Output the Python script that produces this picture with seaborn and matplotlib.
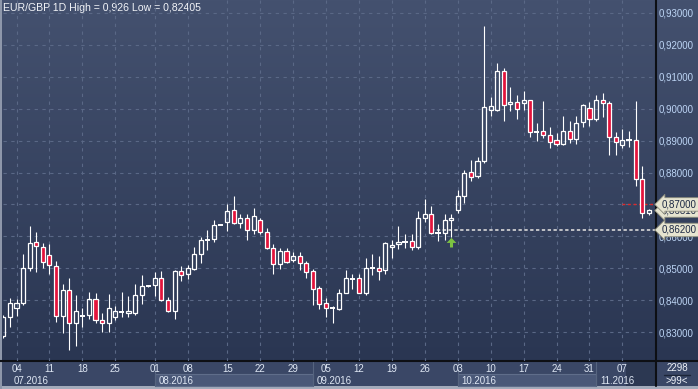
import numpy as np
import pandas as pd
import matplotlib
matplotlib.use("Agg")
import matplotlib.pyplot as plt
import seaborn as sns
from matplotlib import transforms
from matplotlib.patches import Rectangle
from matplotlib.colors import LinearSegmentedColormap

# ---------------- data ----------------
opens = [0.8288, 0.8346, 0.8377, 0.8390, 0.8502, 0.8583, 0.8568, 0.8540, 0.8508, 0.8349,
         0.8433, 0.8330, 0.8351, 0.8352, 0.8404, 0.8337, 0.8330, 0.8346, 0.8364, 0.8361,
         0.8360, 0.8415, 0.8443, 0.8449, 0.8468, 0.8402, 0.8365, 0.8491, 0.8481, 0.8499,
         0.8546, 0.8590, 0.8593, 0.8636, 0.8645, 0.8683, 0.8642, 0.8658, 0.8621, 0.8652,
         0.8615, 0.8563, 0.8512, 0.8553, 0.8527, 0.8537, 0.8517, 0.8491, 0.8437, 0.8390,
         0.8376, 0.8373, 0.8424, 0.8467, 0.8471, 0.8424, 0.8500, 0.8500, 0.8493, 0.8567,
         0.8577, 0.8582, 0.8584, 0.8567, 0.8658, 0.8671, 0.8610, 0.8612, 0.8652, 0.8683,
         0.8727, 0.8803, 0.8788, 0.8837, 0.8996, 0.8996, 0.9118, 0.9016, 0.9022, 0.9018,
         0.9028, 0.8927, 0.8931, 0.8918, 0.8902, 0.8888, 0.8930, 0.8904, 0.8957, 0.9002,
         0.8967, 0.9027, 0.9019, 0.8910, 0.8887, 0.8902, 0.8903, 0.8780, 0.8673]
highs = [0.8352, 0.8408, 0.8404, 0.8546, 0.8631, 0.8613, 0.8578, 0.8577, 0.8522, 0.8450,
         0.8468, 0.8416, 0.8377, 0.8425, 0.8421, 0.8360, 0.8419, 0.8381, 0.8425, 0.8413,
         0.8450, 0.8478, 0.8447, 0.8488, 0.8492, 0.8410, 0.8494, 0.8506, 0.8509, 0.8567,
         0.8598, 0.8621, 0.8652, 0.8640, 0.8702, 0.8725, 0.8671, 0.8671, 0.8690, 0.8659,
         0.8626, 0.8577, 0.8563, 0.8563, 0.8551, 0.8550, 0.8523, 0.8497, 0.8444, 0.8406,
         0.8381, 0.8435, 0.8494, 0.8483, 0.8481, 0.8533, 0.8544, 0.8538, 0.8581, 0.8588,
         0.8631, 0.8606, 0.8608, 0.8679, 0.8716, 0.8694, 0.8638, 0.8671, 0.8671, 0.8744,
         0.8809, 0.8840, 0.8850, 0.9259, 0.9038, 0.9142, 0.9129, 0.9067, 0.9044, 0.9056,
         0.9028, 0.8956, 0.9025, 0.8942, 0.8925, 0.8978, 0.8963, 0.8978, 0.9015, 0.9020,
         0.9044, 0.9048, 0.9025, 0.8926, 0.8937, 0.8931, 0.9025, 0.8821, 0.8685]
lows = [0.8280, 0.8317, 0.8350, 0.8385, 0.8492, 0.8488, 0.8501, 0.8481, 0.8333, 0.8296,
        0.8245, 0.8257, 0.8317, 0.8341, 0.8327, 0.8299, 0.8299, 0.8337, 0.8348, 0.8348,
        0.8355, 0.8387, 0.8441, 0.8413, 0.8398, 0.8363, 0.8341, 0.8460, 0.8467, 0.8496,
        0.8515, 0.8556, 0.8582, 0.8634, 0.8617, 0.8638, 0.8627, 0.8590, 0.8608, 0.8608,
        0.8559, 0.8483, 0.8499, 0.8517, 0.8519, 0.8496, 0.8471, 0.8384, 0.8373, 0.8348,
        0.8329, 0.8369, 0.8421, 0.8435, 0.8421, 0.8417, 0.8478, 0.8463, 0.8481, 0.8532,
        0.8560, 0.8562, 0.8558, 0.8560, 0.8644, 0.8606, 0.8585, 0.8588, 0.8597, 0.8673,
        0.8704, 0.8773, 0.8783, 0.8829, 0.8976, 0.8992, 0.8963, 0.8994, 0.8969, 0.8996,
        0.8910, 0.8898, 0.8908, 0.8876, 0.8884, 0.8885, 0.8891, 0.8890, 0.8942, 0.8947,
        0.8963, 0.8975, 0.8856, 0.8855, 0.8876, 0.8879, 0.8759, 0.8658, 0.8666]
closes = [0.8346, 0.8390, 0.8390, 0.8502, 0.8580, 0.8569, 0.8521, 0.8509, 0.8349, 0.8433,
          0.8330, 0.8365, 0.8353, 0.8405, 0.8338, 0.8330, 0.8374, 0.8365, 0.8366, 0.8365,
          0.8415, 0.8443, 0.8445, 0.8468, 0.8402, 0.8365, 0.8490, 0.8480, 0.8501, 0.8546,
          0.8590, 0.8592, 0.8637, 0.8638, 0.8679, 0.8642, 0.8658, 0.8621, 0.8663, 0.8613,
          0.8563, 0.8512, 0.8553, 0.8520, 0.8537, 0.8515, 0.8488, 0.8435, 0.8388, 0.8377,
          0.8378, 0.8424, 0.8468, 0.8469, 0.8421, 0.8502, 0.8502, 0.8492, 0.8578, 0.8574,
          0.8583, 0.8584, 0.8567, 0.8658, 0.8671, 0.8610, 0.8612, 0.8652, 0.8658, 0.8727,
          0.8799, 0.8785, 0.8837, 0.9004, 0.9008, 0.9119, 0.9012, 0.9022, 0.8998, 0.9028,
          0.8926, 0.8929, 0.8918, 0.8896, 0.8890, 0.8931, 0.8904, 0.8955, 0.9012, 0.8967,
          0.9027, 0.9017, 0.8910, 0.8896, 0.8902, 0.8904, 0.8780, 0.8673, 0.8681]

week_starts = [2, 7, 12, 17, 23, 28, 34, 39, 44, 49, 54, 59, 64, 69, 74, 79, 84, 89, 94]
day_labels = ['04', '11', '18', '25', '01', '08', '15', '22', '29', '05',
              '12', '19', '26', '03', '10', '17', '24', '31', '07']
month_starts = [1, 23, 47, 69, 90]
month_labels = ['07.2016', '08.2016', '09.2016', '10.2016', '11.2016']
price_ticks = [0.83, 0.84, 0.85, 0.86, 0.87, 0.88, 0.89, 0.90, 0.91, 0.92, 0.93]
title_text = 'EUR/GBP 1D High = 0,926 Low = 0,82405'
last_close = 0.8681
alert_level = 0.8700
alert_start = 94
signal_level = 0.8620
signal_start = 65
signal_idx = 68
bar_count = '2298'
zoom_text = '>99<'

# ---------------- style ----------------
sns.set_theme(style="dark")
plt.rcParams['font.family'] = ['Liberation Sans', 'DejaVu Sans']

W, H = 698, 389
PLOT_B = 361
fig = plt.figure(figsize=(W / 100, H / 100), dpi=100)

# background layer in pixel coordinates
bg = fig.add_axes([0, 0, 1, 1])
bg.set_xlim(0, W)
bg.set_ylim(H, 0)
bg.axis('off')
bg.set_zorder(-10)
cmap = LinearSegmentedColormap.from_list('g', ['#44516f', '#2a3652'])
bg.imshow(np.linspace(0, 1, 256).reshape(-1, 1), extent=[0, W, PLOT_B, 0],
          cmap=cmap, aspect='auto', origin='upper')
# time axis panel
bg.add_patch(Rectangle((0, PLOT_B), W, 25, color='#3a4766', lw=0))
bg.add_patch(Rectangle((626, PLOT_B), 29, 25, color='#2c3852', lw=0))
bg.add_patch(Rectangle((0, 386), W, 3, color='#a3abbb', lw=0))
bg.add_patch(Rectangle((0, 0), 2, H, color='#8e97aa', lw=0))

# main axes
ax = fig.add_axes([3 / W, (H - PLOT_B) / H, 652 / W, PLOT_B / H])
ax.set_facecolor('none')
ax.set_xlim(-0.05, 98.95)
ax.set_ylim(0.820938, 0.934063)
for s in ax.spines.values():
    s.set_visible(False)

ax.set_xticks(week_starts)
ax.set_xticklabels(day_labels)
ax.set_yticks(price_ticks)
ax.set_yticklabels([f'{v:.5f}'.replace('.', ',') for v in price_ticks])
ax.yaxis.tick_right()
ax.grid(True, color='#5a6886', linestyle=(0, (3, 4)), linewidth=0.8)
ax.set_axisbelow(True)
ax.tick_params(axis='y', length=0, pad=2.5, labelcolor='#bcd4f4', labelsize=7)
ax.tick_params(axis='x', length=0, pad=2.5, labelcolor='#dfe7f4', labelsize=7)

# candles
df = pd.DataFrame({'o': opens, 'h': highs, 'l': lows, 'c': closes})
df['i'] = np.arange(len(df))
df['top'] = df[['o', 'c']].max(axis=1)
df['bot'] = df[['o', 'c']].min(axis=1)
df['up'] = df['c'] >= df['o']
df['doji'] = (df['c'] - df['o']).abs() < 0.0003
BW = 0.62
RED = '#e3143c'

ax.vlines(df['i'], df['top'], df['h'], colors='white', lw=0.8, zorder=3)
ax.vlines(df['i'], df['l'], df['bot'], colors='white', lw=0.8, zorder=3)
d = df[df['doji']]
ax.hlines(d['o'], d['i'] - BW / 2 - 0.08, d['i'] + BW / 2 + 0.08, colors='white', lw=1.4, zorder=4)
b = df[~df['doji']]
ax.bar(b['i'], b['top'] - b['bot'], bottom=b['bot'], width=BW,
       color=[('none' if u else RED) for u in b['up']],
       edgecolor='white', linewidth=0.9, zorder=4)

# level lines
ax.hlines(signal_level, signal_start, 98.95, colors='#d8d8d8', linestyles=(0, (2, 1.5)), lw=1.2, zorder=2)
ax.hlines(alert_level, alert_start, 98.95, colors='#e02828', linestyles=(0, (2, 2)), lw=1.0, zorder=2)

# signal arrow (up arrow with stem), placed just below the signal candle's low
GREEN = '#7dc242'
sig_low = lows[signal_idx]
ax.vlines(signal_idx, sig_low - 0.0030, sig_low - 0.0010, colors=GREEN, lw=2.2, zorder=5)
head = [(-1, -0.5), (1, -0.5), (0, 0.55), (-1, -0.5)]
ax.plot([signal_idx], [sig_low - 0.0008], marker=head, markersize=7, color=GREEN,
        markeredgewidth=0, linestyle='none', zorder=6)

# price tags on right axis
tag_tr = transforms.offset_copy(transforms.blended_transform_factory(ax.transAxes, ax.transData),
                                fig=fig, x=7, y=0, units='dots')
for lvl in [last_close, alert_level, signal_level]:
    ax.text(1.0, lvl, f'{lvl:.5f}'.replace('.', ','), transform=tag_tr, ha='left', va='center',
            fontsize=7, color='#1c2844', clip_on=False, zorder=10,
            bbox=dict(boxstyle='larrow,pad=0.18', fc='#e6e4d0', ec='#8c8c7c', lw=0.6))

# frame lines
bg.plot([0, W], [PLOT_B, PLOT_B], color='#0d0f14', lw=1.5)
bg.plot([655.5, 655.5], [0, 386], color='#0d0f14', lw=1.5)

# months on time axis
bl = transforms.blended_transform_factory(ax.transData, bg.transData)
bounds = month_starts + [98.95]
for k, (m0, lab) in enumerate(zip(month_starts, month_labels)):
    m1 = min(bounds[k + 1], 98.95)
    if k % 2 == 1:
        bg.add_patch(Rectangle((m0, 374), m1 - m0, 12, transform=bl, fc='#4a5878', ec='#5f6d8a',
                               lw=0.8, clip_on=False))
    if k > 0:
        bg.plot([m0, m0], [PLOT_B + 1, 386], transform=bl, color='#56647f', lw=0.8, clip_on=False)
    bg.text(m0, 380.5, lab, transform=transforms.offset_copy(bl, fig=fig, x=4, y=0, units='dots'),
            ha='left', va='center', fontsize=7, color='#dfe7f4', clip_on=False)

# corner box
bg.text(677, 368, bar_count, ha='center', va='center', fontsize=7, color='#eef2f8')
bg.plot([664, 690], [374.5, 374.5], color='#1c2538', lw=1)
bg.text(677, 380.5, zoom_text, ha='center', va='center', fontsize=7, color='#eef2f8')

# title
bg.text(3, 7.5, title_text, ha='left', va='center', fontsize=7.6, color='#f2f4f8')

fig.savefig('out.png', dpi=100)
